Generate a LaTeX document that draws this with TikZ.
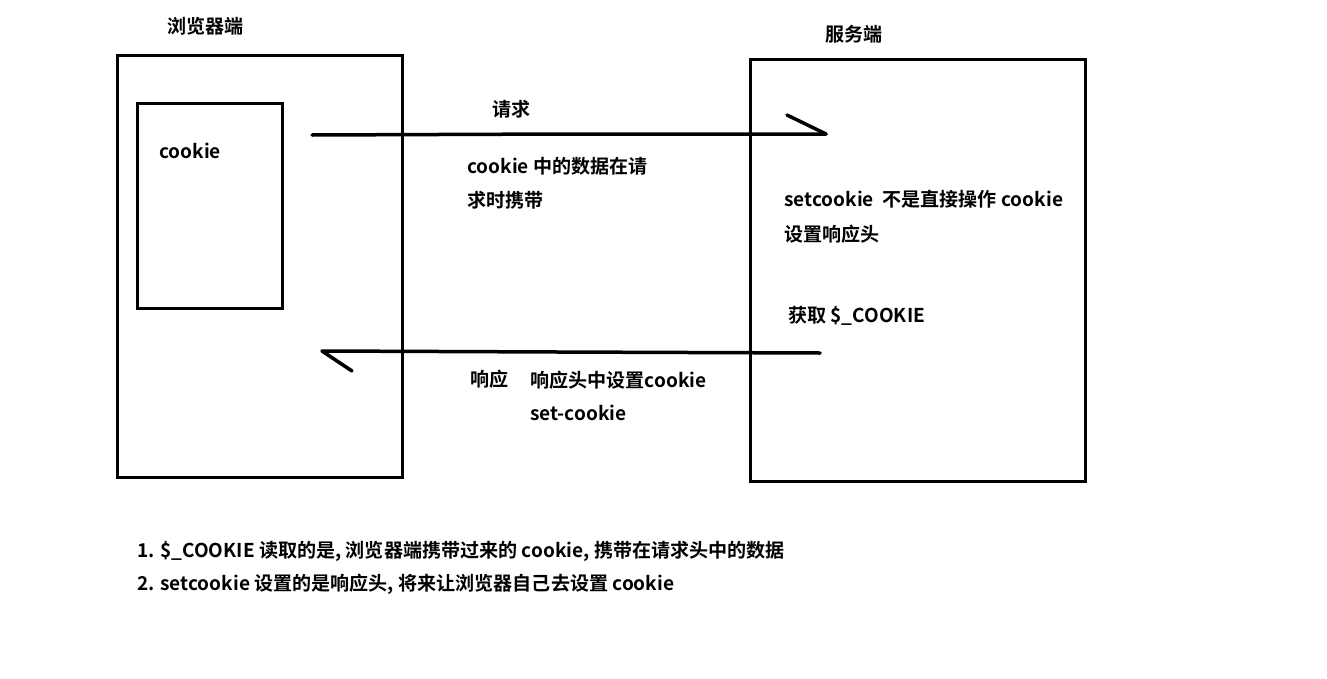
\documentclass[tikz,border=0pt]{standalone}
\usepackage{fontspec}
\setmainfont{Noto Sans CJK SC}[BoldFont={* Bold}]
\begin{document}
\begin{tikzpicture}[x=0.75pt,y=-0.75pt,
  box/.style={line width=3pt*0.75},
  ln/.style={line width=3.5pt*0.75, line cap=round},
  txt/.style={font=\fontsize{14.3pt}{16pt}\selectfont\bfseries, inner sep=0pt, anchor=west}]
\useasboundingbox[fill=white] (0,0) rectangle (1327,678);
% boxes
\draw[box] (117,55) rectangle (402,477);
\draw[box] (137,103) rectangle (282,308);
\draw[box] (750,59) rectangle (1085,481);
% titles
\node[txt] (tb) at (167,26) {浏览器端};
\node[txt] (ts) at (825,34) {服务端};
\node[txt] (ck) at (159,151) {cookie};
% request arrow
\coordinate (r0) at (312,135);
\coordinate (rm) at (565,134);
\coordinate (r1) at (826,134);
\coordinate (rh) at (787,115);
\draw[ln] (r0) -- (rm) -- (r1);
\draw[ln] (rh) -- (r1);
\node[txt] (q) at (492,109) {请求};
\node[txt] (q1) at (467,166) {cookie 中的数据在请};
\node[txt] (q2) at (467,200) {求时携带};
% server texts
\node[txt] (s1t) at (784,199) {setcookie\ \ 不是直接操作 cookie};
\node[txt] (s2t) at (784,234) {设置响应头};
\node[txt] (s3t) at (788,316) {获取 \$\_COOKIE};
% response arrow
\coordinate (p0) at (820,353);
\coordinate (pm) at (558,352);
\coordinate (p1) at (322,351);
\coordinate (ph) at (352,371);
\draw[ln] (p0) -- (pm) -- (p1);
\draw[ln] (p1) -- (ph);
\node[txt] (a0) at (470,379) {响应};
\node[txt] (a1) at (530,380) {响应头中设置cookie};
\node[txt] (a2) at (530,413) {set-cookie};
% notes
\node[txt] (n1) at (137,551) {1. \$\_COOKIE 读取的是, 浏览器端携带过来的 cookie, 携带在请求头中的数据};
\node[txt] (n2) at (137,584) {2. setcookie 设置的是响应头, 将来让浏览器自己去设置 cookie};
\end{tikzpicture}
\end{document}
